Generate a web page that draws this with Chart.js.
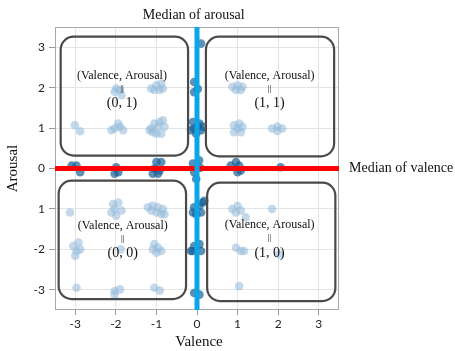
<!DOCTYPE html>
<html>
<head>
<meta charset="utf-8">
<script src="https://cdn.jsdelivr.net/npm/chart.js@4.4.0/dist/chart.umd.min.js"></script>
<style>
html,body{margin:0;padding:0;background:#fff;}
#wrap{width:455px;height:351px;position:relative;}
</style>
</head>
<body>
<div id="wrap"><canvas id="c" width="455" height="351"></canvas></div>
<script>
// ---- data ----
const xTicks = [-3, -2, -1, 0, 1, 2, 3];
const xTickLabels = ['-3', '-2', '-1', '0', '1', '2', '3'];
const yTicks = [-3, -2, -1, 0, 1, 2, 3];
const yTickLabels = ['-3', '-2', '1', '0', '1', '2', '3'];

// points inside the quadrants (light blue)
const lightPoints = [
  [-3.01,1.07],[-2.88,0.92],
  [-2.11,0.95],[-1.94,1.11],[-1.82,0.95],[-2.03,0.99],[-1.90,1.03],
  [-1.13,0.99],[-1.05,1.11],[-0.92,1.15],[-0.84,1.19],[-0.80,1.03],[-1.00,0.86],[-0.88,0.86],[-1.09,0.90],[-0.96,1.03],[-1.17,0.95],
  [-1.99,1.98],[-1.90,1.94],[-2.03,1.90],[-1.86,1.81],
  [-1.13,1.98],[-1.00,2.06],[-0.88,2.10],[-0.92,1.94],[-1.05,1.94],[-0.84,1.98],
  [0.87,2.02],[1.00,2.06],[1.12,2.02],[0.96,1.94],[1.08,1.94],
  [0.91,1.07],[1.04,1.11],[0.91,0.90],[1.08,0.90],[1.00,0.99],[1.12,1.03],
  [1.85,0.99],[1.98,1.04],[2.10,0.99],[1.98,0.93],
  [-3.13,-1.09],
  [-2.07,-0.88],[-1.94,-0.84],[-2.03,-1.00],[-1.86,-1.04],[-1.99,-1.17],[-2.11,-1.09],
  [-1.21,-0.96],[-1.09,-0.92],[-0.96,-0.96],[-0.84,-1.00],[-0.80,-1.13],[-1.00,-1.09],[-1.13,-1.04],[-0.88,-1.13],
  [-3.05,-1.92],[-2.92,-1.83],[-2.97,-2.04],[-2.88,-2.00],[-3.00,-2.16],
  [-1.88,-2.00],
  [-1.05,-1.87],[-0.96,-1.96],[-1.00,-2.08],[-0.88,-2.04],[-1.09,-2.00],
  [-2.97,-2.95],
  [-2.03,-3.03],[-1.90,-2.99],[-2.03,-3.12],
  [-1.05,-2.95],[-0.92,-3.02],
  [0.87,-1.00],[1.00,-0.92],[0.96,-1.09],[1.08,-1.04],[1.20,-1.21],
  [1.85,-1.00],
  [0.96,-1.96],[1.08,-2.04],[1.16,-2.04],
  [2.02,-2.12],
  [1.04,-2.91]
];

// points on the median lines (dark blue)
const darkPoints = [
  [-3.09,0.07],[-2.97,0.07],[-2.88,-0.09],
  [-1.99,0.03],[-2.03,-0.13],[-1.94,-0.09],
  [-1.00,0.16],[-0.88,0.16],[-1.09,-0.13],[-0.96,-0.13],[-0.92,-0.05],[-1.05,0.00],
  [0.83,0.07],[0.96,0.16],[1.04,0.07],[1.00,-0.09],[1.08,-0.05],
  [2.06,0.03],
  [0.10,3.09],
  [-0.07,2.14],[0.02,1.97],[-0.07,1.89],
  [-0.10,1.15],[0.06,1.11],[-0.07,0.99],[0.10,0.95],[-0.02,0.86],[0.14,1.03],[-0.15,0.95],[0.02,1.05],
  [-0.10,0.12],[-0.07,-0.09],[-0.02,-0.26],[0.05,0.20],[0.08,0.02],
  [-0.07,-0.96],[0.06,-0.92],[0.14,-0.84],[0.18,-0.80],[-0.02,-1.13],[0.10,-1.09],[-0.10,-1.09],
  [-0.07,-1.92],[0.06,-1.87],[0.10,-2.04],[-0.10,-2.04],[-0.15,-2.04],
  [-0.07,-3.08],[0.06,-3.12]
];

const medianValence = [[-3.5, 0], [3.5, 0]];
const medianArousal = [[0, -3.5], [0, 3.5]];
const quadrantHeader = '(Valence, Arousal)';
const quadrantLabels = ['(0, 1)', '(1, 1)', '(0, 0)', '(1, 0)'];

const toXY = arr => arr.map(p => ({x: p[0], y: p[1]}));

// ---- overlay plugin: border, boxes, texts ----
const overlay = {
  id: 'overlay',
  beforeDatasetsDraw(chart) {
    const {ctx, chartArea: a} = chart;
    ctx.save();
    ctx.strokeStyle = '#a8a8a8';
    ctx.lineWidth = 1;
    ctx.strokeRect(a.left + 0.5, a.top + 0.5, a.right - a.left - 1, a.bottom - a.top - 1);
    ctx.restore();
  },
  afterDatasetsDraw(chart) {
    const {ctx} = chart;
    const xs = chart.scales.x, ys = chart.scales.y;
    const boxes = [
      {x1: -3.36, x2: -0.22, y1: 3.26, y2: 0.32, tx: -1.85, t1: 2.29, t2: 1.97, t3: 1.62},
      {x1: 0.22, x2: 3.38, y1: 3.26, y2: 0.30, tx: 1.79, t1: 2.29, t2: 1.97, t3: 1.62},
      {x1: -3.41, x2: -0.27, y1: -0.30, y2: -3.23, tx: -1.83, t1: -1.42, t2: -1.74, t3: -2.09},
      {x1: 0.25, x2: 3.41, y1: -0.35, y2: -3.28, tx: 1.79, t1: -1.40, t2: -1.70, t3: -2.09}
    ];
    ctx.save();
    boxes.forEach((b, i) => {
      const l = xs.getPixelForValue(b.x1), r = xs.getPixelForValue(b.x2);
      const t = ys.getPixelForValue(b.y1), bt = ys.getPixelForValue(b.y2);
      ctx.beginPath();
      ctx.roundRect(l, t, r - l, bt - t, 13);
      ctx.strokeStyle = '#4a4a4a';
      ctx.lineWidth = 2.2;
      ctx.stroke();
      const cx = xs.getPixelForValue(b.tx);
      ctx.fillStyle = '#111';
      ctx.textAlign = 'center';
      ctx.textBaseline = 'middle';
      ctx.font = '12px "Liberation Serif", serif';
      ctx.fillText(quadrantHeader, cx, ys.getPixelForValue(b.t1));
      ctx.font = '9px "Liberation Serif", serif';
      ctx.fillText('||', cx, ys.getPixelForValue(b.t2));
      ctx.font = '14px "Liberation Serif", serif';
      ctx.fillText(quadrantLabels[i], cx, ys.getPixelForValue(b.t3));
    });
    ctx.restore();
  },
  afterDraw(chart) {
    const {ctx, chartArea: a} = chart;
    const xs = chart.scales.x, ys = chart.scales.y;
    ctx.save();
    ctx.fillStyle = '#111';
    ctx.font = '14px "Liberation Serif", serif';
    ctx.textBaseline = 'middle';
    ctx.textAlign = 'center';
    ctx.fillText('Median of arousal', xs.getPixelForValue(-0.08), 15);
    ctx.textAlign = 'left';
    ctx.fillText('Median of valence', a.right + 10, ys.getPixelForValue(0));
    ctx.font = '15px "Liberation Serif", serif';
    ctx.textAlign = 'center';
    ctx.fillText('Valence', xs.getPixelForValue(0.05), 342);
    ctx.translate(13, ys.getPixelForValue(0));
    ctx.rotate(-Math.PI / 2);
    ctx.fillText('Arousal', 0, 0);
    ctx.restore();
  }
};

new Chart(document.getElementById('c'), {
  type: 'scatter',
  data: {
    datasets: [
      {data: toXY(medianArousal), showLine: true, borderColor: '#0aa6ea', borderWidth: 5, pointRadius: 0, order: 0},
      {data: toXY(medianValence), showLine: true, borderColor: '#ff0000', borderWidth: 5, pointRadius: 0, order: 1},
      {data: toXY(darkPoints), backgroundColor: 'rgba(25,95,150,0.7)', borderWidth: 0, pointRadius: 4.3, order: 2},
      {data: toXY(lightPoints), backgroundColor: 'rgba(145,186,218,0.55)', borderWidth: 0, pointRadius: 4.3, order: 3}
    ]
  },
  plugins: [overlay],
  options: {
    responsive: false,
    animation: false,
    layout: {padding: {top: 27, right: 116, left: 0, bottom: 0}},
    plugins: {legend: {display: false}, tooltip: {enabled: false}},
    scales: {
      x: {
        type: 'linear', min: -3.5, max: 3.5,
        afterBuildTicks: s => { s.ticks = xTicks.map(v => ({value: v})); },
        afterFit: s => { s.height = 41; },
        ticks: {
          callback: (v, i) => xTickLabels[i],
          color: '#222', font: {family: 'Lato', size: 12}, padding: 2, maxRotation: 0
        },
        grid: {color: '#e4e4e4', tickColor: '#999', tickLength: 5},
        border: {display: false}
      },
      y: {
        type: 'linear', min: -3.5, max: 3.5,
        afterBuildTicks: s => { s.ticks = yTicks.map(v => ({value: v})); },
        afterFit: s => { s.width = 55; },
        ticks: {
          callback: (v, i) => yTickLabels[i],
          color: '#222', font: {family: 'Lato', size: 12}, padding: 4
        },
        grid: {color: '#e4e4e4', tickColor: '#999', tickLength: 6},
        border: {display: false}
      }
    }
  }
});
</script>
</body>
</html>
